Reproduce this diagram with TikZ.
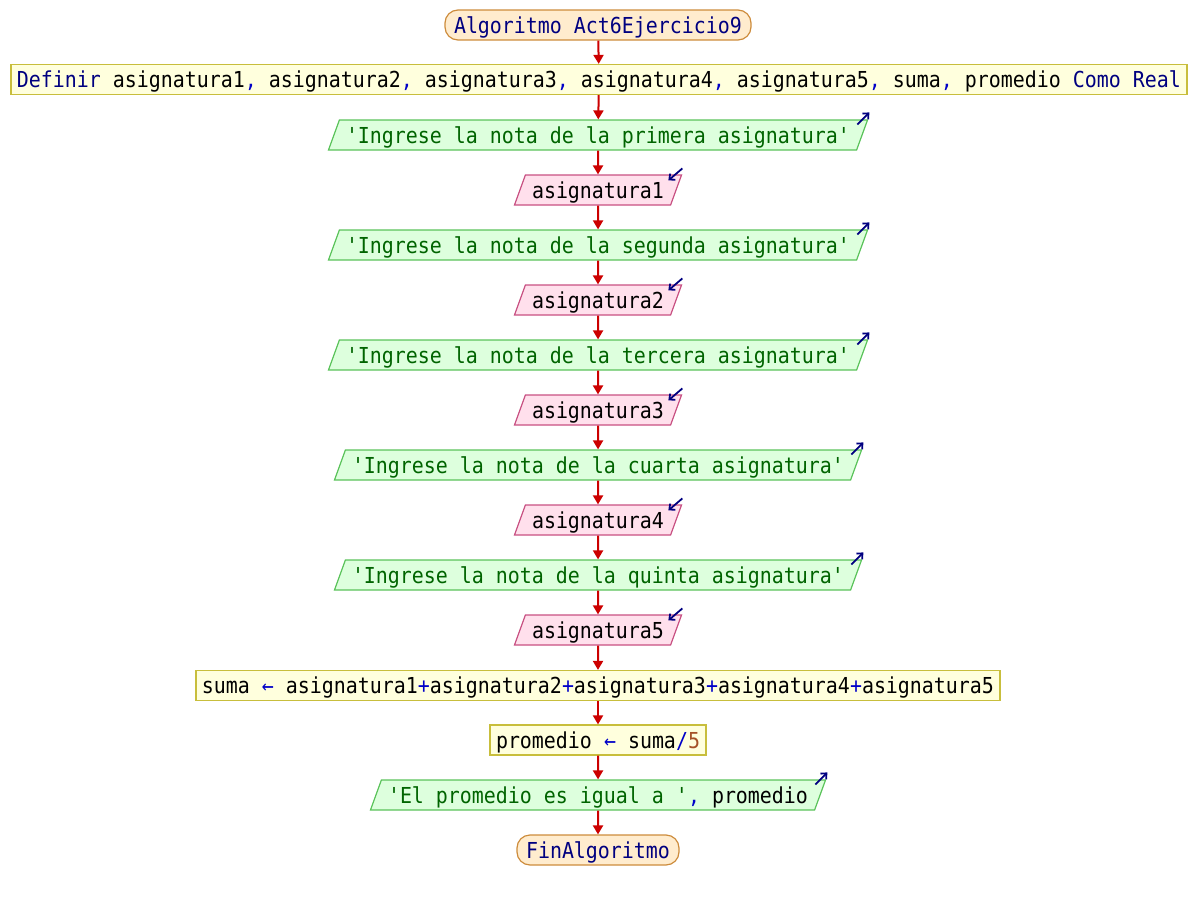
\documentclass[tikz,border=0pt]{standalone}
\usepackage{fontspec}
\newfontfamily\codefont[FakeStretch=0.906]{DejaVu Sans Mono}
\usetikzlibrary{shapes.geometric,arrows.meta}
\definecolor{termF}{RGB}{255,236,206}
\definecolor{termD}{RGB}{205,140,60}
\definecolor{procF}{RGB}{255,255,221}
\definecolor{procD}{RGB}{200,190,60}
\definecolor{outF}{RGB}{221,255,221}
\definecolor{outD}{RGB}{90,195,90}
\definecolor{inF}{RGB}{255,224,236}
\definecolor{inD}{RGB}{200,80,130}
\definecolor{flowC}{RGB}{204,0,0}
\definecolor{iconC}{RGB}{0,0,128}
\definecolor{kw}{RGB}{0,0,128}
\definecolor{str}{RGB}{0,100,0}
\definecolor{op}{RGB}{0,0,200}
\definecolor{num}{RGB}{165,82,40}
\newcommand{\kw}[1]{\textcolor{kw}{#1}}
\newcommand{\st}[1]{\textcolor{str}{#1}}
\newcommand{\opc}[1]{\textcolor{op}{#1}}
\newcommand{\nm}[1]{\textcolor{num}{#1}}
\begin{document}
\begin{tikzpicture}[x=0.5pt,y=-0.5pt,
  base/.style={font=\codefont\fontsize{11pt}{13pt}\selectfont,
    text height=9pt, text depth=1pt, line width=0.6pt, anchor=center},
  term/.style={base, draw=termD, fill=termF, rounded corners=6.5pt, inner xsep=4.5pt,
    minimum height=15pt, inner ysep=0pt},
  proc/.style={base, draw=procD, fill=procF, inner xsep=3pt, minimum height=15pt, inner ysep=0pt},
  iobox/.style={base, trapezium, trapezium left angle=70, trapezium right angle=110,
    inner xsep=3.3pt, inner ysep=2.5pt},
  outp/.style={iobox, draw=outD, fill=outF},
  inp/.style={iobox, draw=inD, fill=inF},
  flow/.style={draw=flowC, line width=1pt, -{Triangle[width=5pt,length=4.5pt]}},
  icon/.style={draw=iconC, line width=0.9pt, -{Straight Barb[length=2.2pt,width=4pt]}}
]
\useasboundingbox (0,0) rectangle (1196,900);

\node[term] (start) at (598,25) {\kw{Algoritmo Act6Ejercicio9}};
\node[proc] (def) at (599,79.5) {\kw{Definir} asignatura1\opc{,} asignatura2\opc{,} asignatura3\opc{,} asignatura4\opc{,} asignatura5\opc{,} suma\opc{,} promedio \kw{Como Real}};
\node[outp] (o1) at (598,135) {\st{'Ingrese la nota de la primera asignatura'}};
\node[inp] (i1) at (598,190) {asignatura1};
\node[outp] (o2) at (598,245) {\st{'Ingrese la nota de la segunda asignatura'}};
\node[inp] (i2) at (598,300) {asignatura2};
\node[outp] (o3) at (598,355) {\st{'Ingrese la nota de la tercera asignatura'}};
\node[inp] (i3) at (598,410) {asignatura3};
\node[outp] (o4) at (598,465) {\st{'Ingrese la nota de la cuarta asignatura'}};
\node[inp] (i4) at (598,520) {asignatura4};
\node[outp] (o5) at (598,575) {\st{'Ingrese la nota de la quinta asignatura'}};
\node[inp] (i5) at (598,630) {asignatura5};
\node[proc] (suma) at (598,685.5) {suma \opc{←} asignatura1\opc{+}asignatura2\opc{+}asignatura3\opc{+}asignatura4\opc{+}asignatura5};
\node[proc] (prom) at (598,740) {promedio \opc{←} suma\opc{/}\nm{5}};
\node[outp] (o6) at (598,795) {\st{'El promedio es igual a '}\opc{,} promedio};
\node[term] (fin) at (598,850) {\kw{FinAlgoritmo}};

\foreach \a/\b in {start/def,def/o1,o1/i1,i1/o2,o2/i2,i2/o3,o3/i3,i3/o4,o4/i4,i4/o5,o5/i5,i5/suma,suma/prom,prom/o6,o6/fin}
  \draw[flow] (\a) -- (\b);

\foreach \n in {o1,o2,o3,o4,o5,o6}
  \draw[icon] (\n.top right corner) ++(-11,5) -- ++(12,-12);
\foreach \n in {i1,i2,i3,i4,i5}
  \draw[icon] (\n.top right corner) ++(0,-6) -- ++(-14,12);
\end{tikzpicture}
\end{document}
